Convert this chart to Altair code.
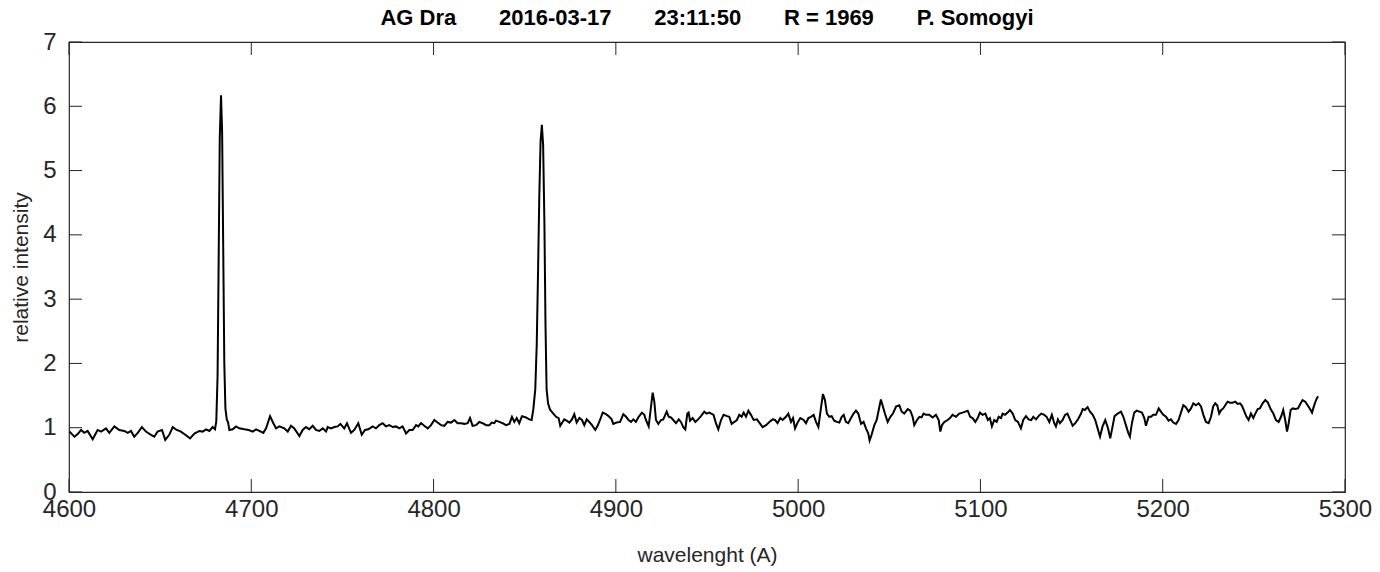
import altair as alt
import pandas as pd

# ---- data ----
wavelength = [
    4600.2, 4603.0, 4604.8, 4606.6, 4608.4, 4610.2, 4613.0, 4615.7, 4617.6, 4620.3,
    4622.1, 4624.9, 4627.6, 4630.4, 4632.2, 4634.0, 4635.8, 4637.7, 4640.0, 4642.2,
    4645.0, 4646.8, 4648.6, 4651.0, 4652.8, 4655.0, 4656.9, 4659.1, 4661.4, 4663.8,
    4666.4, 4668.8, 4671.5, 4673.3, 4675.2, 4677.0, 4678.8, 4680.1, 4680.8, 4681.5,
    4682.1, 4682.7, 4683.4, 4684.0, 4684.6, 4685.2, 4685.8, 4686.6, 4687.2, 4688.0,
    4689.8, 4691.6, 4693.4, 4696.2, 4698.6, 4700.8, 4702.6, 4704.4, 4706.6, 4708.1,
    4710.3, 4712.1, 4713.6, 4715.4, 4718.1, 4720.0, 4721.8, 4723.6, 4724.5, 4726.4,
    4728.2, 4730.0, 4731.8, 4733.7, 4735.5, 4737.3, 4739.2, 4741.0, 4741.9, 4743.7,
    4745.6, 4747.4, 4748.9, 4751.0, 4752.5, 4754.7, 4756.5, 4758.7, 4760.6, 4762.4,
    4764.2, 4766.6, 4768.4, 4770.2, 4772.1, 4773.9, 4775.7, 4777.6, 4779.4, 4781.2,
    4783.0, 4784.9, 4786.7, 4788.5, 4790.4, 4791.6, 4793.1, 4794.9, 4796.8, 4798.6,
    4800.4, 4802.2, 4804.1, 4805.9, 4807.7, 4809.6, 4811.4, 4813.2, 4815.0, 4816.9,
    4818.7, 4820.0, 4821.4, 4823.3, 4825.1, 4826.9, 4828.8, 4830.6, 4831.9, 4833.3,
    4834.2, 4836.1, 4837.9, 4839.7, 4841.6, 4843.0, 4844.3, 4845.6, 4847.0, 4848.5,
    4850.7, 4852.5, 4853.8, 4854.7, 4855.8, 4856.6, 4857.3, 4858.0, 4858.7, 4859.4,
    4860.1, 4860.8, 4861.4, 4862.0, 4862.8, 4863.9, 4865.7, 4867.2, 4868.6, 4869.5,
    4870.8, 4871.7, 4873.0, 4874.5, 4875.9, 4877.2, 4878.5, 4880.0, 4881.4, 4882.7,
    4884.0, 4885.4, 4886.9, 4888.7, 4890.0, 4891.3, 4892.8, 4894.6, 4896.4, 4897.7,
    4898.6, 4900.4, 4902.3, 4904.1, 4905.6, 4907.0, 4908.3, 4909.6, 4911.0, 4912.5,
    4914.3, 4915.6, 4916.5, 4918.0, 4919.3, 4920.2, 4921.1, 4922.0, 4923.3, 4924.8,
    4926.0, 4927.9, 4929.0, 4930.2, 4931.5, 4933.0, 4934.5, 4935.7, 4937.0, 4938.1,
    4939.2, 4939.9, 4940.7, 4942.1, 4943.6, 4945.1, 4946.7, 4948.5, 4949.8, 4951.3,
    4953.6, 4954.9, 4956.2, 4957.7, 4959.1, 4961.0, 4962.2, 4963.5, 4965.0, 4966.4,
    4967.7, 4969.0, 4970.1, 4971.4, 4972.7, 4974.1, 4975.6, 4977.4, 4978.7, 4980.5,
    4982.4, 4984.2, 4986.0, 4987.3, 4988.7, 4990.2, 4991.5, 4993.3, 4994.6, 4996.1,
    4997.2, 4998.3, 4999.7, 5001.2, 5003.0, 5004.3, 5005.6, 5007.0, 5008.5, 5009.8,
    5011.1, 5012.5, 5013.6, 5014.7, 5015.8, 5017.1, 5018.4, 5019.8, 5021.3, 5022.6,
    5023.9, 5025.0, 5026.2, 5027.5, 5029.0, 5030.4, 5031.7, 5033.0, 5034.5, 5035.9,
    5037.2, 5038.5, 5039.2, 5040.3, 5041.8, 5043.1, 5044.2, 5045.4, 5046.5, 5047.6,
    5049.1, 5050.6, 5052.0, 5053.7, 5055.5, 5056.8, 5058.2, 5060.1, 5061.5, 5062.8,
    5063.7, 5065.2, 5066.5, 5067.7, 5068.8, 5070.1, 5072.0, 5073.8, 5075.6, 5077.1,
    5078.0, 5078.9, 5080.2, 5082.0, 5083.3, 5084.7, 5086.6, 5088.4, 5090.2, 5091.7,
    5093.0, 5094.4, 5095.7, 5097.2, 5098.5, 5099.7, 5101.2, 5102.7, 5104.1, 5105.2,
    5106.3, 5107.6, 5108.9, 5110.0, 5111.3, 5112.2, 5113.5, 5114.9, 5116.2, 5117.7,
    5119.1, 5120.6, 5122.2, 5123.5, 5125.0, 5126.4, 5127.9, 5129.0, 5130.5, 5131.9,
    5133.4, 5135.0, 5136.3, 5137.8, 5139.2, 5140.5, 5141.4, 5142.5, 5143.6, 5145.1,
    5146.4, 5147.7, 5149.1, 5150.6, 5152.0, 5153.5, 5155.2, 5156.1, 5157.3, 5158.8,
    5160.1, 5161.6, 5163.0, 5164.3, 5165.6, 5167.0, 5168.5, 5170.0, 5171.2, 5172.5,
    5173.6, 5175.3, 5177.1, 5178.4, 5179.8, 5181.1, 5182.0, 5183.1, 5184.4, 5185.7,
    5187.2, 5188.6, 5189.9, 5190.8, 5192.3, 5193.6, 5194.8, 5196.3, 5197.8, 5199.0,
    5200.3, 5201.8, 5203.2, 5204.5, 5205.8, 5207.3, 5208.7, 5210.0, 5211.3, 5212.7,
    5214.2, 5215.5, 5216.8, 5218.2, 5219.7, 5221.0, 5222.3, 5223.7, 5225.2, 5226.5,
    5227.7, 5228.8, 5229.9, 5231.0, 5232.1, 5233.2, 5234.3, 5235.6, 5236.9, 5238.3,
    5239.8, 5241.1, 5242.4, 5243.5, 5244.8, 5246.0, 5247.1, 5248.4, 5249.7, 5250.8,
    5252.1, 5253.3, 5254.8, 5256.3, 5257.7, 5259.2, 5260.7, 5262.1, 5263.6, 5264.9,
    5266.1, 5267.2, 5268.2, 5269.1, 5270.2, 5271.3, 5272.7, 5274.2, 5275.7, 5276.7,
    5278.2, 5279.5, 5280.8, 5281.9, 5283.0, 5284.1, 5285.2,
]

intensity = [
    0.94, 0.86, 0.90, 0.965, 0.92, 0.95, 0.82, 0.965, 0.94, 0.99,
    0.92, 1.02, 0.965, 0.95, 0.92, 0.95, 0.86, 0.92, 1.01, 0.94,
    0.89, 0.86, 0.94, 0.965, 0.81, 0.89, 1.01, 0.965, 0.94, 0.89,
    0.835, 0.91, 0.95, 0.94, 0.975, 0.95, 1.01, 0.975, 1.10, 1.80,
    3.60, 5.50, 6.17, 5.60, 3.80, 2.00, 1.30, 1.12, 1.09, 0.965,
    0.975, 1.02, 0.99, 0.975, 0.965, 0.94, 0.975, 0.95, 0.92, 0.99,
    1.18, 1.07, 0.99, 1.02, 0.99, 0.94, 1.03, 0.99, 0.95, 0.87,
    0.965, 1.01, 0.975, 1.03, 0.965, 0.95, 0.99, 0.94, 1.01, 0.99,
    1.01, 1.02, 1.06, 0.99, 1.07, 0.92, 0.965, 1.07, 0.89, 0.965,
    0.975, 1.02, 0.99, 1.04, 1.07, 1.02, 1.04, 1.01, 1.02, 0.99,
    1.02, 0.91, 0.965, 0.965, 1.04, 1.02, 1.07, 1.03, 0.99, 1.04,
    1.12, 1.08, 1.04, 1.03, 1.09, 1.08, 1.12, 1.07, 1.07, 1.06,
    1.07, 1.15, 1.03, 1.04, 1.09, 1.07, 1.04, 1.04, 1.08, 1.07,
    1.11, 1.09, 1.07, 1.04, 1.06, 1.17, 1.09, 1.15, 1.07, 1.18,
    1.16, 1.13, 1.12, 1.28, 1.60, 2.30, 3.40, 4.60, 5.45, 5.71,
    5.40, 4.20, 2.60, 1.60, 1.38, 1.28, 1.22, 1.17, 1.15, 1.03,
    1.09, 1.13, 1.11, 1.08, 1.13, 1.21, 1.08, 1.15, 1.12, 1.04,
    1.13, 1.09, 1.04, 0.965, 1.03, 1.12, 1.235, 1.21, 1.17, 1.13,
    1.06, 1.08, 1.09, 1.21, 1.17, 1.12, 1.09, 1.13, 1.09, 1.17,
    1.235, 1.20, 1.12, 1.02, 1.33, 1.545, 1.405, 1.12, 1.06, 1.12,
    1.13, 1.25, 1.17, 1.16, 1.12, 1.07, 1.13, 1.09, 1.01, 0.975,
    1.22, 1.235, 1.11, 1.15, 1.09, 1.13, 1.18, 1.25, 1.22, 1.235,
    1.20, 1.07, 0.975, 1.12, 1.20, 1.18, 1.17, 1.06, 1.09, 1.12,
    1.20, 1.17, 1.235, 1.17, 1.265, 1.20, 1.12, 1.13, 1.08, 1.01,
    1.04, 1.09, 1.13, 1.12, 1.07, 1.15, 1.12, 1.17, 1.22, 1.09,
    1.15, 0.99, 1.08, 1.15, 1.12, 1.07, 1.15, 1.17, 1.20, 1.09,
    1.01, 1.30, 1.525, 1.43, 1.22, 1.17, 1.18, 1.11, 1.09, 1.08,
    1.17, 1.20, 1.09, 1.07, 1.15, 1.22, 1.265, 1.22, 1.06, 1.09,
    0.99, 0.91, 0.80, 0.89, 1.04, 1.12, 1.276, 1.44, 1.33, 1.22,
    1.09, 1.17, 1.22, 1.33, 1.35, 1.25, 1.22, 1.29, 1.265, 1.17,
    1.04, 1.12, 1.17, 1.16, 1.22, 1.20, 1.20, 1.16, 1.20, 1.12,
    0.94, 1.04, 1.09, 1.12, 1.15, 1.20, 1.17, 1.22, 1.235, 1.25,
    1.265, 1.17, 1.15, 1.09, 1.15, 1.235, 1.20, 1.22, 1.12, 1.15,
    1.02, 1.12, 1.09, 1.17, 1.15, 1.22, 1.20, 1.235, 1.276, 1.22,
    1.12, 1.09, 0.99, 1.12, 1.18, 1.13, 1.12, 1.17, 1.13, 1.18,
    1.22, 1.20, 1.17, 1.09, 1.20, 1.07, 1.02, 1.13, 1.07, 1.12,
    1.20, 1.22, 1.13, 1.03, 1.07, 1.13, 1.22, 1.29, 1.276, 1.32,
    1.25, 1.20, 1.12, 0.99, 0.86, 1.02, 1.12, 0.99, 0.835, 1.02,
    1.18, 1.22, 1.25, 1.17, 1.04, 0.92, 0.86, 1.07, 1.235, 1.265,
    1.25, 1.235, 1.15, 1.03, 1.17, 1.17, 1.20, 1.20, 1.30, 1.25,
    1.20, 1.17, 1.11, 1.13, 1.08, 1.06, 1.12, 1.235, 1.35, 1.32,
    1.25, 1.30, 1.38, 1.35, 1.38, 1.33, 1.20, 1.09, 1.07, 1.17,
    1.33, 1.38, 1.35, 1.22, 1.276, 1.30, 1.35, 1.405, 1.39, 1.39,
    1.405, 1.37, 1.38, 1.34, 1.25, 1.17, 1.12, 1.22, 1.15, 1.22,
    1.29, 1.30, 1.38, 1.43, 1.39, 1.29, 1.22, 1.12, 1.09, 1.17,
    1.276, 1.12, 0.94, 1.07, 1.276, 1.30, 1.29, 1.30, 1.38, 1.43,
    1.405, 1.35, 1.29, 1.235, 1.34, 1.43, 1.49,
]

x_ticks = [4600, 4700, 4800, 4900, 5000, 5100, 5200, 5300]
y_ticks = [0, 1, 2, 3, 4, 5, 6, 7]

SP = "\u00a0" * 7
title_text = "AG Dra" + SP + "2016-03-17" + SP + "23:11:50" + SP + "R = 1969" + SP + "P. Somogyi"

W, H = 1276, 450
TICK = 13
INK = "#262626"
FONT = "Liberation Sans"

df = pd.DataFrame({"wavelength": wavelength, "intensity": intensity})
xt = pd.DataFrame({"wavelength": x_ticks})
yt = pd.DataFrame({"intensity": y_ticks})

xs = alt.Scale(domain=[4600, 5300], nice=False, zero=False)
ys = alt.Scale(domain=[0, 7], nice=False, zero=False)

x_axis = alt.Axis(values=x_ticks, format="d", title="wavelenght (A)", domain=False, ticks=False,
                  grid=False, labelFontSize=24, labelColor=INK, labelFont=FONT,
                  labelPadding=5, titleFontSize=21, titleFontWeight="normal",
                  titleColor=INK, titleFont=FONT, titlePadding=23,
                  labelFlush=False, labelOverlap=False)
y_axis = alt.Axis(values=y_ticks, format="d", title="relative intensity", domain=False, ticks=False,
                  grid=False, labelFontSize=24, labelColor=INK, labelFont=FONT,
                  labelPadding=13, titleFontSize=21, titleFontWeight="normal",
                  titleColor=INK, titleFont=FONT, titlePadding=11,
                  labelFlush=False, labelOverlap=False)

line = alt.Chart(df).mark_line(color="black", strokeWidth=2, clip=True).encode(
    x=alt.X("wavelength:Q", scale=xs, axis=x_axis),
    y=alt.Y("intensity:Q", scale=ys, axis=y_axis),
)

bottom_ticks = alt.Chart(xt).mark_rule(color=INK, strokeWidth=1).encode(
    x=alt.X("wavelength:Q", scale=xs), y=alt.value(H), y2=alt.value(H - TICK))
top_ticks = alt.Chart(xt).mark_rule(color=INK, strokeWidth=1).encode(
    x=alt.X("wavelength:Q", scale=xs), y=alt.value(0), y2=alt.value(TICK))
left_ticks = alt.Chart(yt).mark_rule(color=INK, strokeWidth=1).encode(
    y=alt.Y("intensity:Q", scale=ys), x=alt.value(0), x2=alt.value(TICK))
right_ticks = alt.Chart(yt).mark_rule(color=INK, strokeWidth=1).encode(
    y=alt.Y("intensity:Q", scale=ys), x=alt.value(W), x2=alt.value(W - TICK))

chart = alt.layer(line, bottom_ticks, top_ticks, left_ticks, right_ticks).properties(
    width=W,
    height=H,
    autosize=alt.AutoSizeParams(type="none"),
    padding={"left": 69, "top": 42, "right": 35, "bottom": 80},
    background="white",
    title=alt.TitleParams(text=title_text, fontSize=22, fontWeight="bold", font=FONT,
                          color="black", anchor="middle", offset=0),
).configure_view(stroke=INK, strokeWidth=1.2)

chart.save("out.html", embed_options={"renderer": "svg", "actions": False})
